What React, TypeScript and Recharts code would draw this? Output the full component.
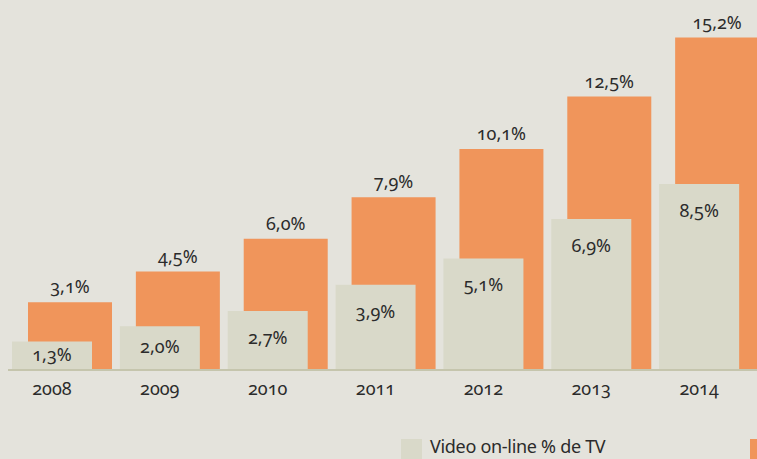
import { BarChart, Bar, XAxis, YAxis, LabelList } from "recharts";

const years = ["2008", "2009", "2010", "2011", "2012", "2013", "2014"];
const videoOnline = [1.3, 2.0, 2.7, 3.9, 5.1, 6.9, 8.5];
const otherSeries = [3.1, 4.5, 6.0, 7.9, 10.1, 12.5, 15.2];

const data = years.map((year, i) => ({
  year,
  video: videoOnline[i],
  other: otherSeries[i],
}));

const BG = "#e4e3dc";
const GREY = "#d9d9c9";
const ORANGE = "#f0955b";
const TEXT = "#2b2b2b";
const FONT = "'Noto Sans', 'Open Sans', sans-serif";

const fmt = (v: any) => Number(v).toFixed(1).replace(".", ",") + "%";

// label inside the grey bar, a bit below its top
const GreyLabel = (props: any) => {
  const { x, y, width, height, value } = props;
  const cy = y + Math.min(28, height / 2);
  return (
    <text
      x={x + width / 2}
      y={cy + 5}
      textAnchor="middle"
      fill={TEXT}
      fontSize={18}
      fontFamily={FONT}
      style={{ fontVariantNumeric: "oldstyle-nums" }}
    >
      {fmt(value)}
    </text>
  );
};

const App = () => {
  return (
    <div
      style={{
        position: "absolute",
        left: 0,
        top: 0,
        width: 757,
        height: 459,
        background: BG,
        overflow: "hidden",
        fontFamily: FONT,
      }}
    >
      <BarChart
        width={757}
        height={459}
        data={data}
        margin={{ top: 20, right: 0, bottom: 59, left: 8 }}
      >
        <XAxis
          xAxisId="grey"
          dataKey="year"
          height={30}
          padding={{ left: -10, right: 4 }}
          tickLine={false}
          tickMargin={6}
          axisLine={{ stroke: "#c5c5ad", strokeWidth: 2 }}
          tick={{
            fill: TEXT,
            fontSize: 18,
            fontFamily: FONT,
            style: { fontVariantNumeric: "oldstyle-nums" },
          }}
        />
        <XAxis
          xAxisId="orange"
          dataKey="year"
          hide
          padding={{ left: 8, right: -14 }}
        />
        <YAxis hide domain={[0, 16]} />
        <Bar
          xAxisId="orange"
          dataKey="other"
          fill={ORANGE}
          barSize={84}
          isAnimationActive={false}
        >
          <LabelList
            dataKey="other"
            position="top"
            offset={9}
            formatter={fmt}
            fill={TEXT}
            fontSize={18}
            fontFamily={FONT}
            style={{ fontVariantNumeric: "oldstyle-nums" }}
          />
        </Bar>
        <Bar
          xAxisId="grey"
          dataKey="video"
          fill={GREY}
          barSize={80}
          isAnimationActive={false}
        >
          <LabelList dataKey="video" content={GreyLabel} />
        </Bar>
      </BarChart>

      <div
        style={{
          position: "absolute",
          left: 401,
          top: 439,
          display: "flex",
          alignItems: "flex-start",
          whiteSpace: "nowrap",
        }}
      >
        <div style={{ width: 21, height: 20, background: GREY }} />
        <span
          style={{
            marginLeft: 8,
            marginTop: -2,
            fontSize: 18,
            color: TEXT,
            lineHeight: "19px",
            letterSpacing: -0.3,
          }}
        >
          Video on-line % de TV
        </span>
        <div
          style={{ width: 21, height: 20, background: ORANGE, marginLeft: 145 }}
        />
      </div>
    </div>
  );
};

export default App;
